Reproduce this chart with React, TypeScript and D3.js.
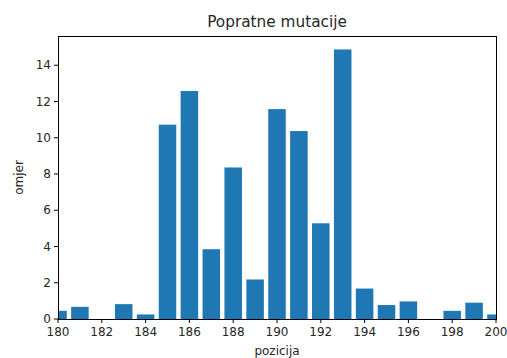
import React from "react";
import * as d3 from "d3";

// Positions along the sequence and the ratio measured at each one
const positions = [180, 181, 182, 183, 184, 185, 186, 187, 188, 189, 190, 191, 192, 193, 194, 195, 196, 197, 198, 199, 200];
const ratios = [0.45, 0.67, 0, 0.82, 0.25, 10.72, 12.58, 3.85, 8.36, 2.18, 11.58, 10.37, 5.28, 14.87, 1.68, 0.77, 0.97, 0, 0.45, 0.9, 0.25];
const xTicks = [180, 182, 184, 186, 188, 190, 192, 194, 196, 198, 200];
const yTicks = [0, 2, 4, 6, 8, 10, 12, 14];

const title = "Popratne mutacije";
const xLabel = "pozicija";
const yLabel = "omjer";

const W = 507;
const H = 358;
const M = { left: 58, right: 11, top: 36, bottom: 39 };
const FONT = "'DejaVu Sans', sans-serif";

export default function App() {
  const x = d3.scaleLinear().domain([180, 200]).range([M.left, W - M.right]);
  const yMax = d3.max(ratios)! * 1.05;
  const y = d3.scaleLinear().domain([0, yMax]).range([H - M.bottom, M.top]);
  const barW = x(180.8) - x(180);
  const textColor = "#262626";

  return (
    <svg
      width={W}
      height={H}
      style={{ position: "absolute", left: 0, top: 0, background: "#fff" }}
    >
      <defs>
        <clipPath id="plot-area">
          <rect x={M.left} y={M.top} width={W - M.left - M.right} height={H - M.top - M.bottom} />
        </clipPath>
      </defs>

      <g clipPath="url(#plot-area)">
        {positions.map((p, i) => (
          <rect
            key={p}
            x={x(p) - barW / 2}
            y={y(ratios[i])}
            width={barW}
            height={y(0) - y(ratios[i])}
            fill="#1f77b4"
          />
        ))}
      </g>

      {/* frame */}
      <rect
        x={M.left}
        y={M.top}
        width={W - M.left - M.right}
        height={H - M.top - M.bottom}
        fill="none"
        stroke="#000"
        strokeWidth={1}
        shapeRendering="crispEdges"
      />

      {/* x axis ticks */}
      {xTicks.map((t) => (
        <g key={t}>
          <line x1={x(t)} x2={x(t)} y1={y(0)} y2={y(0) + 4} stroke="#000" strokeWidth={1} />
          <text x={x(t)} y={y(0) + 17} textAnchor="middle" fontFamily={FONT} fontSize={12} fill={textColor}>
            {t}
          </text>
        </g>
      ))}

      {/* y axis ticks */}
      {yTicks.map((t) => (
        <g key={t}>
          <line x1={M.left - 4} x2={M.left} y1={y(t)} y2={y(t)} stroke="#000" strokeWidth={1} />
          <text
            x={M.left - 7}
            y={y(t)}
            dy="0.35em"
            textAnchor="end"
            fontFamily={FONT}
            fontSize={12}
            fill={textColor}
          >
            {t}
          </text>
        </g>
      ))}

      <text x={(M.left + W - M.right) / 2} y={27} textAnchor="middle" fontFamily={FONT} fontSize={15.3} fill={textColor}>
        {title}
      </text>
      <text x={(M.left + W - M.right) / 2} y={355} textAnchor="middle" fontFamily={FONT} fontSize={12} fill={textColor}>
        {xLabel}
      </text>
      <text
        transform={`translate(23, ${(M.top + H - M.bottom) / 2}) rotate(-90)`}
        textAnchor="middle"
        fontFamily={FONT}
        fontSize={12}
        fill={textColor}
      >
        {yLabel}
      </text>
    </svg>
  );
}
